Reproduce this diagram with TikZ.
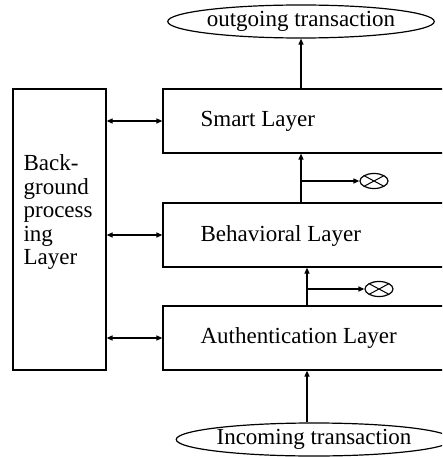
\documentclass[tikz,border=0pt]{standalone}
\usepackage{fontspec}
\setmainfont{Liberation Serif}
\usetikzlibrary{arrows.meta,shapes.geometric}
\begin{document}
\begin{tikzpicture}[x=1pt,y=-1pt,
  line width=1.2pt,
  font=\fontsize{23}{23.5}\selectfont,
  tip/.style={-{Triangle[length=6pt,width=5pt]}},
  twoway/.style={{Triangle[length=6pt,width=5pt]}-{Triangle[length=6pt,width=5pt]}},
  layer/.style={draw,minimum height=64pt,inner sep=0pt},
  oval/.style={draw,ellipse,inner sep=0pt},
  sink/.style={draw,ellipse,minimum width=28pt,minimum height=15pt,inner sep=0pt,
    path picture={\draw[line width=1pt]
      (path picture bounding box.north west)--(path picture bounding box.south east)
      (path picture bounding box.south west)--(path picture bounding box.north east);}},
  lbl/.style={anchor=west,inner sep=0pt}]
\useasboundingbox (0,0) rectangle (442,457);
\clip (0,0) rectangle (442,457);

% background processing column
\node[draw,minimum width=93pt,minimum height=281pt,inner sep=0pt] (bg) at (59.5,229.5) {};
\node[anchor=north west,inner sep=0pt,align=left] (bgtxt) at (23,154)
  {Back-\\ground\\process\\ing\\Layer};

% stacked layers (right side runs past the edge)
\node[layer,minimum width=290pt] (smart) at (308,121) {};
\node[layer,minimum width=290pt] (behav) at (308,235) {};
\node[layer,minimum width=290pt] (auth) at (308,338) {};
\node[lbl] (smarttxt) at (200,121) {Smart Layer};
\node[lbl] (behavtxt) at (200,236) {Behavioral Layer};
\node[lbl] (authtxt) at (200,338) {Authentication Layer};

% transactions
\node[oval,minimum width=252pt,minimum height=33pt] (out) at (301,21.5) {outgoing transaction};
\node[oval,minimum width=248pt,minimum height=33pt] (in) at (314,439.5) {Incoming transaction};

% rejection sinks
\node[sink] (rej1) at (374,181) {};
\node[sink] (rej2) at (379,289) {};

% vertical flow
\draw[tip] (smart.north -| out.south) -- (out.south);
\draw[tip] (behav.north -| out.south) coordinate (b1) -- (smart.south -| out.south);
\draw[tip] (auth.north -| 307,0) coordinate (a1) -- (behav.south -| 307,0);
\draw[tip] (in.north -| 307,0) -- (auth.south -| 307,0);
\draw[tip] (rej1.west -| out.south) -- (rej1.west);
\draw[tip] (rej2.west -| 307,0) -- (rej2.west);

% links to background processing
\draw[twoway] (bg.east |- smart.west) -- (smart.west);
\draw[twoway] (bg.east |- behav.west) -- (behav.west);
\draw[twoway] (bg.east |- auth.west) -- (auth.west);
\end{tikzpicture}
\end{document}
